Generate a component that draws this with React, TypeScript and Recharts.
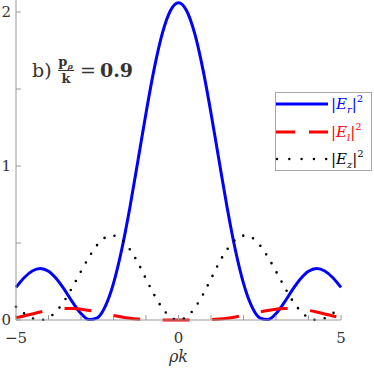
import React from 'react';
import { LineChart, Line, XAxis, YAxis, Legend } from 'recharts';

const rhoK = [
  -5, -4.75, -4.5, -4.25, -4, -3.75, -3.5, -3.25, -3, -2.75, -2.5, -2.25, -2, -1.75, -1.5, -1.25, -1, -0.75, -0.5, -0.25,
  0, 0.25, 0.5, 0.75, 1, 1.25, 1.5, 1.75, 2, 2.25, 2.5, 2.75, 3, 3.25, 3.5, 3.75, 4, 4.25, 4.5, 4.75, 5,
];

const erSq = [
  0.2116, 0.2747, 0.3183, 0.3342, 0.3162, 0.2664, 0.1938, 0.1124, 0.0418, 0.0026, 0.0141, 0.0904, 0.2381, 0.4543, 0.7262, 1.0319, 1.3433, 1.6291, 1.8592, 2.0083,
  2.06, 2.0083, 1.8592, 1.6291, 1.3433, 1.0319, 0.7262, 0.4543, 0.2381, 0.0904, 0.0141, 0.0026, 0.0418, 0.1124, 0.1938, 0.2664, 0.3162, 0.3342, 0.3183, 0.2747, 0.2116,
];

const elSq = [
  0.0151, 0.0265, 0.0392, 0.052, 0.0629, 0.0709, 0.075, 0.0748, 0.0701, 0.062, 0.0521, 0.0409, 0.0298, 0.02, 0.0121, 0.0066, 0.0029, 0.001, 0.0002, 0.0,
  0.0, 0.0, 0.0002, 0.001, 0.0029, 0.0066, 0.0121, 0.02, 0.0298, 0.0409, 0.0521, 0.062, 0.0701, 0.0748, 0.075, 0.0709, 0.0629, 0.052, 0.0392, 0.0265, 0.0151,
];

const ezSq = [
  0.0865, 0.0433, 0.0116, 0.0, 0.0148, 0.0585, 0.1286, 0.2188, 0.3159, 0.4091, 0.4874, 0.5358, 0.5478, 0.5213, 0.4593, 0.3722, 0.267, 0.1645, 0.0779, 0.0202,
  0.0, 0.0202, 0.0779, 0.1645, 0.267, 0.3722, 0.4593, 0.5213, 0.5478, 0.5358, 0.4874, 0.4091, 0.3159, 0.2188, 0.1286, 0.0585, 0.0148, 0.0, 0.0116, 0.0433, 0.0865,
];

const xTicks = [-5, -4, -3, -2, -1, 0, 1, 2, 3, 4, 5];
const xTickLabels: Record<number, string> = { [-5]: '\u22125', 0: '0', 5: '5' };
const yTicks = [0, 0.5, 1, 1.5, 2];
const yTickLabels: Record<number, string> = { 0: '0', 1: '1', 2: '2' };

const seriesNames = ['r', 'l', 'z'];
const seriesColors = ['#0000ff', '#ff0000', '#000000'];

const data = rhoK.map((x, i) => ({ x, er: erSq[i], el: elSq[i], ez: ezSq[i] }));

const FONT = 'DejaVu Serif';
const AXIS = '#9a9a9a';
const LABEL = '#333333';

const fontStyle = { fontFamily: FONT };

const XTick = (props: any) => {
  const { x, y, payload } = props;
  const label = xTickLabels[payload.value];
  return (
    <g>
      <line x1={x} x2={x} y1={y} y2={y - 5} stroke={AXIS} strokeWidth={1} />
      {label !== undefined && (
        <text x={x} y={y + 23} textAnchor="middle" style={fontStyle} fontSize={15} fill={LABEL}>
          {label}
        </text>
      )}
    </g>
  );
};

const YTick = (props: any) => {
  const { x, y, payload } = props;
  const label = yTickLabels[payload.value];
  return (
    <g>
      <line x1={x} x2={x + 5} y1={y} y2={y} stroke={AXIS} strokeWidth={1} />
      {label !== undefined && (
        <text x={x - 5} y={y + 5} textAnchor="end" style={fontStyle} fontSize={15} fill={LABEL}>
          {label}
        </text>
      )}
    </g>
  );
};

const LegendBox = () => {
  const rows = [104, 132, 159];
  return (
    <svg width={97} height={79} style={{ display: 'block' }}>
      <rect x={0.5} y={0.5} width={96} height={78} fill="#ffffff" stroke="#a8a8a8" strokeWidth={1} />
      {seriesNames.map((n, i) => {
        const cy = rows[i] - 92;
        const c = seriesColors[i];
        return (
          <g key={n}>
            {i === 0 && <line x1={1} x2={53} y1={cy} y2={cy} stroke={c} strokeWidth={3} />}
            {i === 1 && <line x1={1} x2={53} y1={cy} y2={cy} stroke={c} strokeWidth={3} strokeDasharray="19 14" />}
            {i === 2 && (
              <line x1={2} x2={53} y1={cy} y2={cy} stroke={c} strokeWidth={2.4} strokeLinecap="round" strokeDasharray="0 12.3" />
            )}
            <text x={56} y={cy + 5} style={fontStyle} fontSize={15} fill={c}>
              <tspan>|</tspan>
              <tspan fontStyle="italic">E</tspan>
              <tspan fontStyle="italic" fontSize={10} dy={4}>{n}</tspan>
              <tspan dy={-4}>|</tspan>
              <tspan fontSize={10} dy={-7}>2</tspan>
            </text>
          </g>
        );
      })}
    </svg>
  );
};

export default function App() {
  return (
    <div style={{ position: 'absolute', left: 0, top: 0, width: 374, height: 368, background: '#fff' }}>
      <LineChart width={374} height={368} data={data} margin={{ top: 0, right: 33, left: 0, bottom: 0 }}>
        <XAxis
          dataKey="x"
          type="number"
          domain={[-5, 5]}
          ticks={xTicks}
          interval={0}
          height={48}
          stroke={AXIS}
          tickLine={false}
          tickSize={0}
          tickMargin={0}
          tick={<XTick />}
          label={{ value: '\u03c1k', position: 'insideBottom', offset: 6, style: { fontFamily: FONT, fontStyle: 'italic', fontSize: 16, fill: LABEL } }}
        />
        <YAxis
          type="number"
          domain={[0, 2.078]}
          ticks={yTicks}
          interval={0}
          width={16}
          stroke={AXIS}
          tickLine={false}
          tickSize={0}
          tickMargin={0}
          tick={<YTick />}
        />
        <Line dataKey="er" name="|Er|^2" type="monotone" stroke={seriesColors[0]} strokeWidth={3} dot={false} isAnimationActive={false} />
        <Line dataKey="el" name="|El|^2" type="monotone" stroke={seriesColors[1]} strokeWidth={3} strokeDasharray="27 22.5" dot={false} isAnimationActive={false} />
        <Line dataKey="ez" name="|Ez|^2" type="monotone" stroke={seriesColors[2]} strokeWidth={2.6} strokeLinecap="round" strokeDasharray="0 10.4" dot={false} isAnimationActive={false} />
        <Legend
          layout="horizontal"
          verticalAlign="middle"
          align="center"
          wrapperStyle={{ position: 'absolute', left: 275, top: 92, width: 97, height: 79, right: 'auto', bottom: 'auto', margin: 0, padding: 0 }}
          content={<LegendBox />}
        />
      </LineChart>
      <svg width={374} height={368} style={{ position: 'absolute', left: 0, top: 0, pointerEvents: 'none' }}>
        <text x={32} y={77} style={fontStyle} fontSize={19} fill={LABEL}>b)</text>
        <text x={65.5} y={66} textAnchor="middle" style={fontStyle} fontSize={13} fontWeight="bold" fill={LABEL}>
          <tspan>p</tspan>
          <tspan fontSize={8} dy={3} fontStyle="italic">{'\u03c1'}</tspan>
        </text>
        <line x1={58} x2={74} y1={70.5} y2={70.5} stroke={LABEL} strokeWidth={1} />
        <text x={66} y={83} textAnchor="middle" style={fontStyle} fontSize={13} fontWeight="bold" fill={LABEL}>k</text>
        <text x={80} y={77} style={fontStyle} fontSize={19} fill={LABEL}>=</text>
        <text x={100} y={77} style={fontStyle} fontSize={19} fontWeight="bold" fill={LABEL}>0.9</text>
      </svg>
    </div>
  );
}
